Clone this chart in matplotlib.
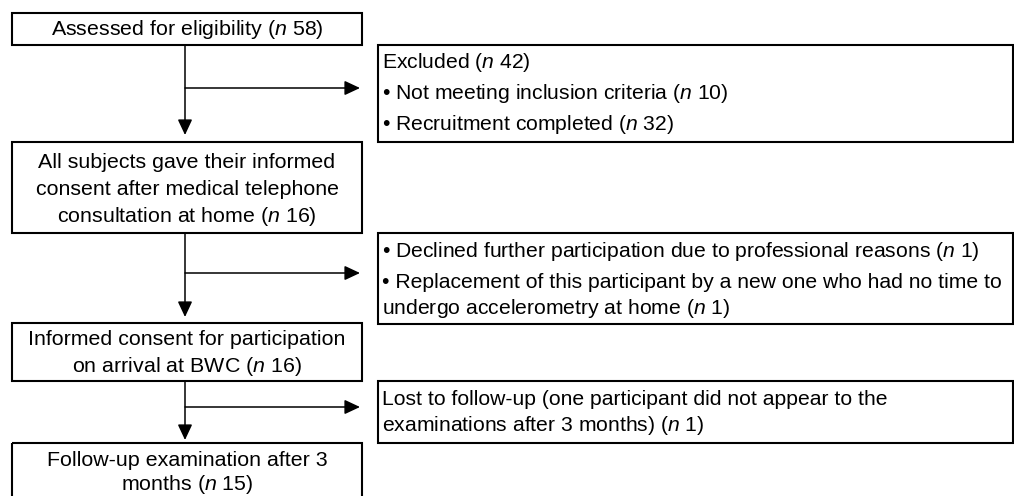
import matplotlib
matplotlib.use("Agg")
import matplotlib.pyplot as plt
from matplotlib.patches import Rectangle

plt.rcParams['font.family'] = ['Liberation Sans', 'DejaVu Sans']
plt.rcParams['mathtext.fontset'] = 'custom'
plt.rcParams['mathtext.rm'] = 'Liberation Sans'
plt.rcParams['mathtext.it'] = 'Liberation Sans:italic'

N = r'$\mathit{n}$'

# main flow boxes (centered text)
main_text = [
    ["Assessed for eligibility (%s 58)" % N],
    ["All subjects gave their informed",
     "consent after medical telephone",
     "consultation at home (%s 16)" % N],
    ["Informed consent for participation",
     "on arrival at BWC (%s 16)" % N],
    ["Follow-up examination after 3",
     "months (%s 15)" % N],
]
# side boxes (left aligned text)
side_text = [
    ["Excluded (%s 42)" % N,
     "\u2022 Not meeting inclusion criteria (%s 10)" % N,
     "\u2022 Recruitment completed (%s 32)" % N],
    ["\u2022 Declined further participation due to professional reasons (%s 1)" % N,
     "\u2022 Replacement of this participant by a new one who had no time to",
     "undergo accelerometry at home (%s 1)" % N],
    ["Lost to follow-up (one participant did not appear to the",
     "examinations after 3 months) (%s 1)" % N],
]

# layout in pixels
main_y = [(13, 45), (142, 233), (323, 381), (443, 520)]
main_base = [[35], [168, 195, 222], [345, 372], [466, 490]]
side_y = [(45, 142), (233, 324), (381, 443)]
side_base = [[68, 99, 130], [257, 288, 314], [405, 431]]
mx0, mx1 = 12, 362
sx0, sx1 = 378, 1013
vx = 185
arrows = [  # (y_start, y_tip, y_side)
    (45, 135, 88),
    (233, 317, 273),
    (381, 440, 407),
]

fig = plt.figure(figsize=(10.14, 4.96), dpi=100)
ax = fig.add_axes([0, 0, 1, 1])
ax.set_xlim(0, 1014)
ax.set_ylim(496, 0)
ax.axis('off')

fs = 15.4
fs_side = 15.2
lw_box = 1.5

for (y0, y1), lines, bases in zip(main_y, main_text, main_base):
    ax.add_patch(Rectangle((mx0, y0), mx1 - mx0, y1 - y0, fill=False,
                           ec='black', lw=lw_box))
    for t, b in zip(lines, bases):
        ax.text((mx0 + mx1) / 2, b, t, ha='center', va='baseline', fontsize=fs)

for (y0, y1), lines, bases in zip(side_y, side_text, side_base):
    ax.add_patch(Rectangle((sx0, y0), sx1 - sx0, y1 - y0, fill=False,
                           ec='black', lw=lw_box))
    for t, b in zip(lines, bases):
        ax.text(sx0 + 4, b, t, ha='left', va='baseline', fontsize=fs_side)

style = '-|>,head_length=9.4,head_width=4.4'
for ys, yt, yh in arrows:
    ax.annotate('', xy=(vx, yt), xytext=(vx, ys),
                arrowprops=dict(arrowstyle=style, color='black', lw=1.1,
                                shrinkA=0, shrinkB=0, mutation_scale=1))
    ax.annotate('', xy=(360, yh), xytext=(vx, yh),
                arrowprops=dict(arrowstyle=style, color='black', lw=1.1,
                                shrinkA=0, shrinkB=0, mutation_scale=1))

fig.savefig('out.png', dpi=100)
